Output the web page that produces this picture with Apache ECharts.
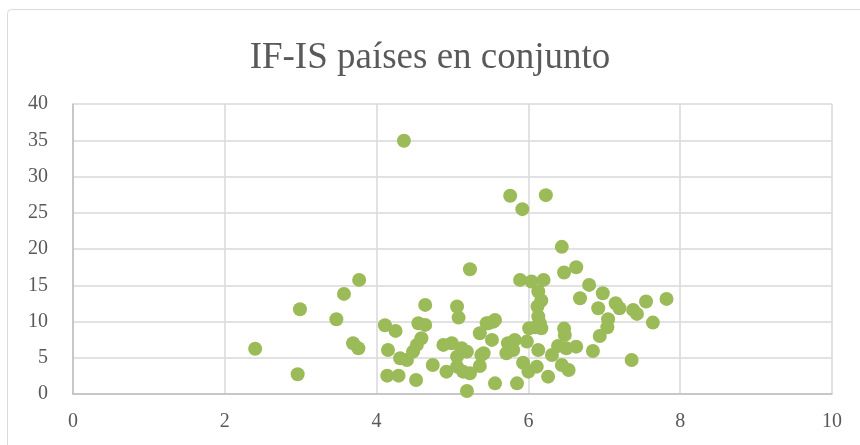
<!DOCTYPE html>
<html>
<head>
<meta charset="utf-8">
<script src="https://cdn.jsdelivr.net/npm/echarts@6/dist/echarts.min.js"></script>
<style>
  html, body { margin: 0; padding: 0; background: #ffffff; }
  #chart { width: 860px; height: 445px; }
</style>
</head>
<body>
<div id="chart"></div>
<script>
// Chart title and axis settings
const chartTitle = 'IF-IS países en conjunto';
const xTicks = [0, 2, 4, 6, 8, 10];
const yTicks = [0, 5, 10, 15, 20, 25, 30, 35, 40];

// IF values (x) and IS values (y) per observation
const ifValues = [
  2.40, 2.96, 2.99, 3.47, 3.57, 3.77, 3.69, 3.76, 4.36,
  4.11, 4.25, 4.15, 4.14, 4.29, 4.31, 4.40, 4.48, 4.53, 4.59, 4.55, 4.64, 4.64, 4.52, 4.74,
  4.88, 4.99, 5.12, 5.19, 5.06, 4.92, 5.06, 5.14, 5.23, 5.06, 5.08, 5.23, 5.19, 5.36, 5.38,
  5.36, 5.47, 5.56, 5.52, 5.56,
  5.41, 5.45, 5.54, 5.71, 5.73, 5.80, 5.82, 5.98, 5.76, 5.92, 6.23, 5.89, 6.04, 6.20, 6.13,
  6.17, 6.12, 6.13, 6.15, 6.09, 6.01, 6.17, 5.93, 6.00, 6.11, 5.85, 6.13,
  6.44, 6.47, 6.63, 6.80, 6.68, 6.98, 6.92, 7.15, 7.20, 7.05, 7.04, 6.94, 7.38, 7.43, 7.55,
  7.64, 7.82, 7.36, 6.47, 6.48, 6.39, 6.50, 6.63, 6.31, 6.44, 6.53, 6.26, 6.85
];
const isValues = [
  6.25, 2.72, 11.69, 10.31, 13.81, 15.74, 7.00, 6.31, 34.93,
  9.48, 8.70, 6.07, 2.53, 2.53, 4.93, 4.69, 5.84, 6.77, 7.69, 9.76, 9.53, 12.29, 1.93, 4.00,
  6.77, 7.00, 6.31, 5.84, 5.15, 3.08, 3.77, 3.08, 2.86, 12.06, 10.54, 17.21, 0.41, 8.38, 5.38,
  3.87, 9.76, 10.22, 7.46, 1.47,
  5.62, 9.76, 9.98, 5.62, 7.00, 6.07, 7.46, 7.23, 27.34, 25.50, 27.43, 15.74, 15.51, 15.74, 14.13,
  12.89, 12.06, 10.68, 9.76, 9.21, 9.07, 9.07, 4.32, 3.08, 3.77, 1.47, 6.07,
  20.30, 16.75, 17.49, 15.05, 13.21, 13.90, 11.83, 12.52, 11.83, 10.31, 9.21, 8.01, 11.60, 11.05, 12.75,
  9.85, 13.12, 4.69, 9.02, 8.15, 6.63, 6.31, 6.53, 5.38, 4.00, 3.31, 2.39, 5.94
];

const points = ifValues.map((x, i) => [x, isValues[i]]);

const serifFamily = '"Liberation Serif", "DejaVu Serif", serif';
const labelFont = {
  color: '#595959',
  fontFamily: serifFamily,
  fontSize: 20
};

const chart = echarts.init(document.getElementById('chart'), null, { renderer: 'canvas' });
chart.setOption({
  animation: false,
  backgroundColor: '#ffffff',
  title: {
    text: chartTitle,
    left: 'center',
    top: 35,
    textStyle: {
      color: '#595959',
      fontFamily: serifFamily,
      fontWeight: 'normal',
      fontSize: 37
    }
  },
  graphic: [{
    type: 'rect',
    shape: { x: 7.5, y: 9.5, width: 870, height: 460, r: 4 },
    style: { fill: 'none', stroke: '#d9d9d9', lineWidth: 1 },
    silent: true,
    z: -1
  }],
  grid: { left: 73, right: 28, top: 104, bottom: 51, containLabel: false },
  xAxis: {
    type: 'value',
    min: xTicks[0],
    max: xTicks[xTicks.length - 1],
    interval: 2,
    axisLine: { show: true, lineStyle: { color: '#bfbfbf', width: 1.5 } },
    axisTick: { show: false },
    axisLabel: Object.assign({ margin: 18 }, labelFont),
    splitLine: { show: true, lineStyle: { color: '#d9d9d9', width: 1.5 } }
  },
  yAxis: {
    type: 'value',
    min: yTicks[0],
    max: yTicks[yTicks.length - 1],
    interval: 5,
    axisLine: { show: true, lineStyle: { color: '#bfbfbf', width: 1.5 } },
    axisTick: { show: false },
    axisLabel: Object.assign({ margin: 25 }, labelFont),
    splitLine: { show: true, lineStyle: { color: '#d9d9d9', width: 1.5 } }
  },
  series: [{
    type: 'scatter',
    data: points,
    symbol: 'circle',
    symbolSize: 14,
    itemStyle: { color: '#9bbb59', opacity: 1 }
  }]
});
</script>
</body>
</html>
